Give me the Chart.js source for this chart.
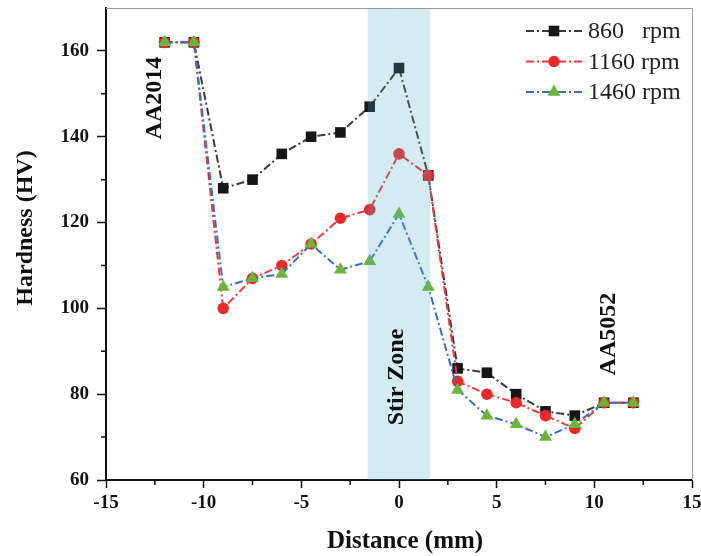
<!DOCTYPE html>
<html>
<head>
<meta charset="utf-8">
<script src="https://cdn.jsdelivr.net/npm/chart.js@4.4.1/dist/chart.umd.min.js"></script>
<style>
  html, body { margin: 0; padding: 0; background: #fff; }
  #wrap { width: 701px; height: 556px; }
</style>
</head>
<body>
<div id="wrap"><canvas id="hv-chart"></canvas></div>
<script>
const distance = [-12, -10.5, -9, -7.5, -6, -4.5, -3, -1.5, 0, 1.5, 3, 4.5, 6, 7.5, 9, 10.5, 12];
const hv860 = [162, 162, 128, 130, 136, 140, 141, 147, 156, 131, 86, 85, 80, 76, 75, 78, 78];
const hv1160 = [162, 162, 100, 107, 110, 115, 121, 123, 136, 131, 83, 80, 78, 75, 72, 78, 78];
const hv1460 = [162, 162, 105, 107, 108, 115, 109, 111, 122, 105, 81, 75, 73, 70, 73, 78, 78];
const seriesLabels = ['860   rpm', '1160 rpm', '1460 rpm'];

const xTicks = [-15, -10, -5, 0, 5, 10, 15];
const xMinor = [-12.5, -7.5, -2.5, 2.5, 7.5, 12.5];
const yTicks = [60, 80, 100, 120, 140, 160];
const yMinor = [70, 90, 110, 130, 150];
const stirZone = [-1.6, 1.6];
const notes = [
  { text: 'AA2014', x: -12.5, y: 149 },
  { text: 'Stir Zone', x: -0.1, y: 84 },
  { text: 'AA5052', x: 10.75, y: 94 },
];
const xTitle = 'Distance (mm)';
const yTitle = 'Hardness (HV)';

const SERIF = '"Liberation Serif", "DejaVu Serif", serif';
const DASH = [8, 3, 2, 3];

const toPoints = (ys) => distance.map((x, i) => ({ x, y: ys[i] }));

const makeSet = (label, ys, lineColor, markColor, style, radius, order) => ({
  label,
  data: toPoints(ys),
  borderColor: lineColor,
  borderWidth: 2,
  borderDash: DASH,
  pointStyle: style,
  pointRadius: radius,
  pointBackgroundColor: markColor,
  pointBorderColor: markColor,
  pointBorderWidth: 0,
  tension: 0,
  order,
});

// band, rotated notes, minor ticks, frame, axis titles and legend
const decor = {
  id: 'decor',
  afterDatasetsDraw(chart) {
    const { ctx, chartArea: a, scales: { x, y } } = chart;
    ctx.save();

    // stir zone band, drawn translucent over the lines
    const x0 = x.getPixelForValue(stirZone[0]);
    const x1 = x.getPixelForValue(stirZone[1]);
    ctx.fillStyle = 'rgba(76,172,201,0.24)';
    ctx.fillRect(x0, a.top, x1 - x0, a.bottom - a.top);

    // frame top/right
    ctx.strokeStyle = '#9a9a9a';
    ctx.lineWidth = 1;
    ctx.beginPath();
    ctx.moveTo(a.left, a.top + 0.5);
    ctx.lineTo(a.right + 0.5, a.top + 0.5);
    ctx.lineTo(a.right + 0.5, a.bottom);
    ctx.stroke();

    // minor ticks
    ctx.strokeStyle = '#111';
    ctx.lineWidth = 1.5;
    ctx.beginPath();
    xMinor.forEach((v) => {
      const px = x.getPixelForValue(v);
      ctx.moveTo(px, a.bottom);
      ctx.lineTo(px, a.bottom + 5);
    });
    yMinor.forEach((v) => {
      const py = y.getPixelForValue(v);
      ctx.moveTo(a.left, py);
      ctx.lineTo(a.left - 5, py);
    });
    ctx.stroke();

    // notes
    ctx.fillStyle = '#111';
    ctx.font = 'bold 24px ' + SERIF;
    ctx.textAlign = 'center';
    ctx.textBaseline = 'middle';
    notes.forEach((n) => {
      ctx.save();
      ctx.translate(x.getPixelForValue(n.x), y.getPixelForValue(n.y));
      ctx.rotate(-Math.PI / 2);
      ctx.fillText(n.text, 0, 0);
      ctx.restore();
    });

    // axis titles
    ctx.font = 'bold 25px ' + SERIF;
    ctx.fillText(xTitle, (a.left + a.right) / 2 + 6, a.bottom + 62);
    ctx.save();
    ctx.translate(26, (a.top + a.bottom) / 2 - 16);
    ctx.rotate(-Math.PI / 2);
    ctx.font = 'bold 24px ' + SERIF;
    ctx.fillText(yTitle, 0, 0);
    ctx.restore();

    // legend
    const lx = a.right - 166;
    chart.data.datasets.forEach((ds, i) => {
      const ry = a.top + 23 + i * 30.5;
      ctx.strokeStyle = ds.borderColor;
      ctx.lineWidth = 2;
      ctx.setLineDash(DASH);
      ctx.beginPath();
      ctx.moveTo(lx, ry);
      ctx.lineTo(lx + 56, ry);
      ctx.stroke();
      ctx.setLineDash([]);
      ctx.fillStyle = ds.pointBackgroundColor;
      ctx.strokeStyle = ds.pointBorderColor;
      Chart.helpers.drawPoint(ctx, { pointStyle: ds.pointStyle, radius: ds.pointRadius, rotation: 0, borderWidth: 0 }, lx + 28, ry);
      ctx.fillStyle = '#222';
      ctx.font = '24px ' + SERIF;
      ctx.textAlign = 'left';
      ctx.fillText(ds.label, lx + 62, ry + 1);
    });

    ctx.restore();
  },
};

const tickFont = { family: SERIF, size: 19, weight: 'bold' };

new Chart(document.getElementById('hv-chart'), {
  type: 'line',
  data: {
    datasets: [
      makeSet(seriesLabels[0], hv860, '#3a3a3a', '#161616', 'rect', 7.5, 3),
      makeSet(seriesLabels[1], hv1160, '#e63a3c', '#ea2a2a', 'circle', 5.8, 2),
      makeSet(seriesLabels[2], hv1460, '#3a6cc2', '#6cb43a', 'triangle', 7.5, 1),
    ],
  },
  plugins: [decor],
  options: {
    responsive: true,
    maintainAspectRatio: false,
    animation: false,
    layout: { padding: { top: 8, right: 9, left: 0, bottom: 0 } },
    plugins: {
      legend: { display: false },
      tooltip: { enabled: false },
    },
    scales: {
      x: {
        type: 'linear',
        min: -15,
        max: 15,
        afterBuildTicks: (s) => { s.ticks = xTicks.map((value) => ({ value })); },
        afterFit: (s) => { s.height = 76; s.paddingLeft = 0; s.paddingRight = 0; },
        ticks: { color: '#111', font: tickFont, padding: 4, maxRotation: 0, autoSkip: false },
        grid: { drawOnChartArea: false, drawTicks: true, tickLength: 8, tickColor: '#111', tickWidth: 1.5 },
        border: { display: true, color: '#111', width: 2 },
      },
      y: {
        min: 60,
        max: 170,
        afterBuildTicks: (s) => { s.ticks = yTicks.map((value) => ({ value })); },
        afterFit: (s) => { s.width = 106; s.paddingTop = 0; s.paddingBottom = 0; },
        ticks: { color: '#111', font: tickFont, padding: 8, autoSkip: false },
        grid: { drawOnChartArea: false, drawTicks: true, tickLength: 9, tickColor: '#111', tickWidth: 1.5 },
        border: { display: true, color: '#111', width: 2 },
      },
    },
  },
});
</script>
</body>
</html>
